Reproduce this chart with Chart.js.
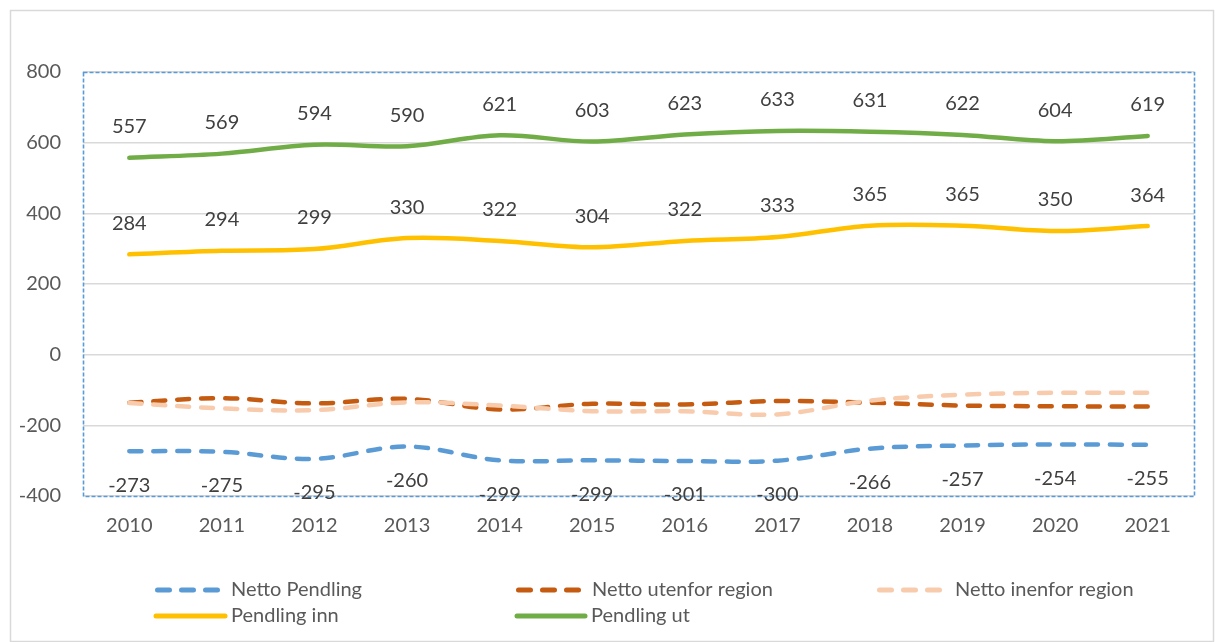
<!DOCTYPE html>
<html><head><meta charset="utf-8">
<script src="https://cdn.jsdelivr.net/npm/chart.js@4/dist/chart.umd.min.js"></script>
<style>html,body{margin:0;padding:0;background:#fff;}#wrap{position:relative;width:1215px;height:642px;}</style>
</head><body><div id="wrap"><canvas id="c" width="1215" height="642"></canvas></div>
<script>
const years = ['2010','2011','2012','2013','2014','2015','2016','2017','2018','2019','2020','2021'];
const nettoPendling = [-273,-275,-295,-260,-299,-299,-301,-300,-266,-257,-254,-255];
const nettoUtenfor = [-136,-123,-138,-125,-155,-139,-141,-131,-136,-144,-146,-147];
const nettoInenfor = [-137,-152,-157,-135,-144,-160,-160,-169,-130,-113,-108,-108];
const pendlingInn = [284,294,299,330,322,304,322,333,365,365,350,364];
const pendlingUt = [557,569,594,590,621,603,623,633,631,622,604,619];
const yTicks = [800,600,400,200,0,-200,-400];
const seriesNames = ['Netto Pendling','Netto utenfor region','Netto inenfor region','Pendling inn','Pendling ut'];

const FONT = 'Lato, "Open Sans", sans-serif';
const colors = ['#5B9BD5','#C55A11','#F8CBAD','#FFC000','#70AD47'];
const dashed = [true,true,true,false,false];
const seriesData = [nettoPendling, nettoUtenfor, nettoInenfor, pendlingInn, pendlingUt];
const labelOffset = [34, null, null, -31, -31];

const datasets = seriesData.map((d,i)=>({
  label: seriesNames[i], data: d,
  borderColor: colors[i], backgroundColor: colors[i],
  borderWidth: 4.5, borderDash: dashed[i] ? [12,12] : [],
  borderCapStyle: 'round',
  pointRadius: 0, pointHoverRadius: 0, tension: 0.35, fill: false,
  order: 5 - i
}));

const framePlugin = {
  id: 'frame',
  beforeDraw(chart) {
    const ctx = chart.ctx;
    ctx.save();
    ctx.fillStyle = '#fff'; ctx.fillRect(0,0,chart.width,chart.height);
    ctx.strokeStyle = '#D9D9D9'; ctx.lineWidth = 1.5;
    ctx.strokeRect(10.5, 10.5, 1203, 631);
    ctx.restore();
  },
  afterDraw(chart) {
    const ctx = chart.ctx, a = chart.chartArea;
    ctx.save();
    ctx.strokeStyle = '#5B9BD5'; ctx.lineWidth = 1.6; ctx.setLineDash([4,2]);
    ctx.strokeRect(Math.round(a.left)+0.5, Math.round(a.top)+0.5, Math.round(a.right-a.left), Math.round(a.bottom-a.top));
    ctx.restore();
    // data labels
    ctx.save();
    ctx.font = '20px ' + FONT; ctx.fillStyle = '#404040';
    ctx.textAlign = 'center'; ctx.textBaseline = 'middle';
    chart.data.datasets.forEach((ds, i) => {
      if (labelOffset[i] === null) return;
      const meta = chart.getDatasetMeta(i);
      meta.data.forEach((pt, j) => {
        ctx.fillText(String(ds.data[j]), pt.x, pt.y + labelOffset[i]);
      });
    });
    ctx.restore();
    // legend
    const items = [
      {i:0, x1:155, x2:218, tx:231, y:590},
      {i:1, x1:516, x2:579, tx:592, y:590},
      {i:2, x1:877, x2:940, tx:955, y:590},
      {i:3, x1:156, x2:225, tx:231, y:616},
      {i:4, x1:517, x2:585, tx:591, y:616}
    ];
    ctx.save();
    items.forEach(it => {
      ctx.strokeStyle = colors[it.i]; ctx.lineWidth = 5; ctx.lineCap = 'round';
      ctx.setLineDash(dashed[it.i] ? [12,12] : []);
      ctx.beginPath(); ctx.moveTo(it.x1 + (dashed[it.i]?2.5:0), it.y); ctx.lineTo(it.x2, it.y); ctx.stroke();
      ctx.setLineDash([]);
      ctx.font = '20px ' + FONT; ctx.fillStyle = '#595959';
      ctx.textAlign = 'left'; ctx.textBaseline = 'middle';
      ctx.fillText(seriesNames[it.i], it.tx, it.y);
    });
    ctx.restore();
  }
};

new Chart(document.getElementById('c'), {
  type: 'line',
  data: { labels: years, datasets },
  options: {
    responsive: false, animation: false, devicePixelRatio: 1,
    layout: { padding: { left: 0, top: 72, right: 21, bottom: 96 } },
    plugins: { legend: { display: false }, tooltip: { enabled: false } },
    scales: {
      x: {
        offset: true,
        grid: { display: false, drawTicks: false },
        border: { display: false },
        ticks: { color: '#595959', font: { family: FONT, size: 20 }, padding: 18, maxRotation: 0 },
        afterFit(s) { s.height = 50; }
      },
      y: {
        min: -400, max: 800,
        afterBuildTicks(s) { s.ticks = yTicks.map(v => ({ value: v })); },
        grid: { color: '#D9D9D9', lineWidth: 1.5, drawTicks: false },
        border: { display: false },
        ticks: { color: '#595959', font: { family: FONT, size: 20 }, padding: 22 },
        afterFit(s) { s.width = 83; }
      }
    }
  },
  plugins: [framePlugin]
});
</script></body></html>
